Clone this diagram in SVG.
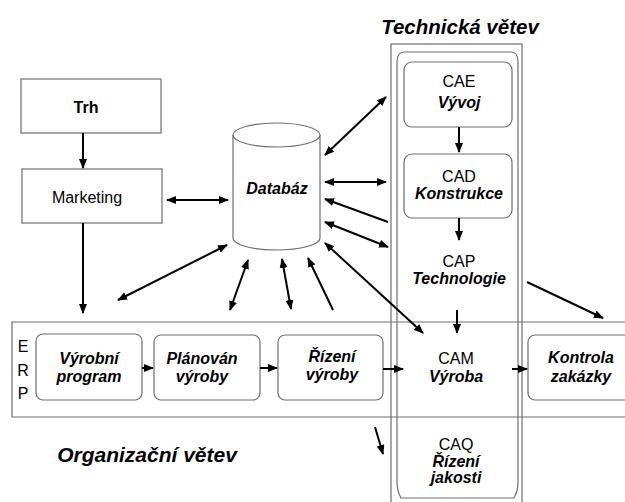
<svg xmlns="http://www.w3.org/2000/svg" width="625" height="502" viewBox="0 0 625 502">
  <defs>
    <marker id="ah" markerUnits="userSpaceOnUse" markerWidth="10" markerHeight="8" refX="9" refY="4" orient="auto-start-reverse">
      <path d="M0,0 L10,4 L0,8 Z" fill="#000"/>
    </marker>
    <style>
      .box { fill: #fff; stroke: #6e6e6e; stroke-width: 1.2; }
      .frame { fill: none; stroke: #6e6e6e; stroke-width: 1.2; }
      .t { font-family: "Liberation Sans", Arial, sans-serif; font-size: 16px; fill: #000; text-anchor: middle; }
      .bi { font-weight: bold; font-style: italic; }
      .b { font-weight: bold; }
      .title { font-family: "Liberation Sans", Arial, sans-serif; font-weight: bold; font-style: italic; fill: #000; text-anchor: middle; }
      .c line { stroke: #000; stroke-width: 2; }
      .one { marker-end: url(#ah); }
      .two { marker-start: url(#ah); marker-end: url(#ah); }
      .back { marker-start: url(#ah); }
    </style>
  </defs>

  <rect width="625" height="502" fill="#fff"/>

  <!-- frames: ERP band and technical column -->
  <g id="erp-band">
    <path class="frame" d="M627,322 H12 V417 H627"/>
    <text class="t" x="23" y="352">E</text>
    <text class="t" x="23" y="376">R</text>
    <text class="t" x="23" y="399">P</text>
  </g>
  <g id="tech-column">
    <rect class="frame" x="391" y="44" width="131" height="470"/>
    <path class="frame" d="M404,52 H511 Q518,52 518,62 V482 Q518,491 514,498 H401 Q397,491 397,482 V62 Q397,52 404,52 Z"/>
  </g>

  <text class="title" x="460" y="34" font-size="20.5">Technická větev</text>
  <text class="title" x="147" y="462" font-size="21">Organizační větev</text>

  <g id="trh">
    <rect class="box" x="21" y="79" width="140" height="54"/>
    <text class="t b" x="86" y="113">Trh</text>
  </g>
  <g id="marketing">
    <rect class="box" x="22" y="169" width="140" height="54"/>
    <text class="t" x="87" y="203" font-size="15">Marketing</text>
  </g>
  <g id="databaze">
    <path class="box" d="M233,135 V238 A43.5,12 0 0 0 320,238 V135"/>
    <ellipse class="box" cx="276.5" cy="135" rx="43.5" ry="12"/>
    <text class="t bi" x="277" y="194" font-size="15.5">Databáz</text>
  </g>

  <g id="cae">
    <rect class="box" x="404" y="62" width="108" height="65" rx="8"/>
    <text class="t" x="459" y="87">CAE</text>
    <text class="t bi" x="459" y="108" font-size="15.5">Vývoj</text>
  </g>
  <g id="cad">
    <rect class="box" x="404" y="154" width="108" height="64" rx="8"/>
    <text class="t" x="459" y="182">CAD</text>
    <text class="t bi" x="459" y="199">Konstrukce</text>
  </g>
  <g id="cap">
    <text class="t" x="459" y="267">CAP</text>
    <text class="t bi" x="459" y="284">Technologie</text>
  </g>
  <g id="cam">
    <text class="t" x="456" y="364">CAM</text>
    <text class="t bi" x="456" y="382">Výroba</text>
  </g>
  <g id="caq">
    <text class="t" x="456" y="450">CAQ</text>
    <text class="t bi" x="456" y="467">Řízení</text>
    <text class="t bi" x="456" y="483">jakosti</text>
  </g>

  <g id="vyrobni-program">
    <rect class="box" x="36" y="334" width="106" height="66" rx="7"/>
    <text class="t bi" x="89" y="364">Výrobní</text>
    <text class="t bi" x="89" y="382">program</text>
  </g>
  <g id="planovani">
    <rect class="box" x="154" y="335" width="106" height="65" rx="7"/>
    <text class="t bi" x="202" y="364">Plánován</text>
    <text class="t bi" x="202" y="382">výroby</text>
  </g>
  <g id="rizeni-vyroby">
    <rect class="box" x="278" y="335" width="105" height="65" rx="7"/>
    <text class="t bi" x="332" y="362">Řízení</text>
    <text class="t bi" x="332" y="380">výroby</text>
  </g>
  <g id="kontrola">
    <rect class="box" x="528" y="335" width="110" height="65" rx="7"/>
    <text class="t bi" x="581" y="363">Kontrola</text>
    <text class="t bi" x="581" y="382">zakázky</text>
  </g>

  <g id="connectors" class="c">
    <line class="one" x1="83" y1="133" x2="83" y2="168"/>
    <line class="two" x1="167" y1="200" x2="228" y2="200"/>
    <line class="one" x1="83" y1="223" x2="83" y2="313"/>
    <line class="two" x1="118" y1="300" x2="227" y2="245"/>
    <line class="two" x1="248" y1="260" x2="230" y2="310"/>
    <line class="two" x1="282" y1="259" x2="291" y2="309"/>
    <line class="back" x1="308" y1="258" x2="333" y2="310"/>
    <line class="two" x1="325" y1="155" x2="386" y2="97"/>
    <line class="two" x1="325" y1="182" x2="386" y2="182"/>
    <line class="back" x1="325" y1="199" x2="388" y2="222"/>
    <line class="two" x1="325" y1="222" x2="388" y2="247"/>
    <line class="two" x1="325" y1="243" x2="423" y2="333"/>
    <line class="one" x1="459" y1="127" x2="459" y2="152"/>
    <line class="one" x1="459" y1="218" x2="459" y2="240"/>
    <line class="one" x1="457" y1="310" x2="457" y2="333"/>
    <line class="one" x1="527" y1="282" x2="603" y2="318"/>
    <line class="one" x1="142" y1="368" x2="153" y2="368"/>
    <line class="one" x1="260" y1="368" x2="277" y2="368"/>
    <line class="one" x1="383" y1="369" x2="403" y2="369"/>
    <line class="one" x1="512" y1="369" x2="527" y2="369"/>
    <line class="one" x1="375" y1="427" x2="383" y2="454"/>
  </g>
</svg>
